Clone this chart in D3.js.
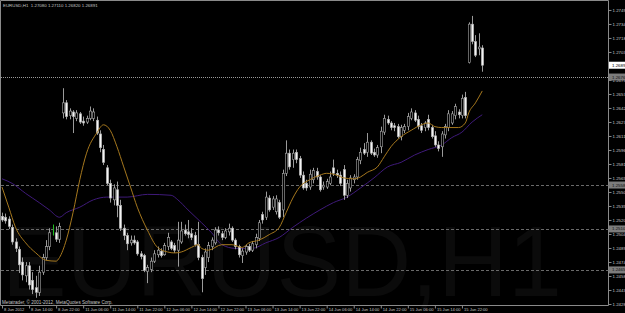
<!DOCTYPE html>
<meta charset="utf-8">
<script src="https://d3js.org/d3.v7.min.js"></script>
<style>
  body { margin: 0; background: #000; }
  svg text { font-family: "Liberation Sans", Arial, sans-serif; }
</style>
<body>
<div id="chart"></div>
<script>
// EURUSD H1, one candle per hour from 8 Jun 06:00 to 18 Jun 04:00
var open = [
  1.2524,1.2523,1.2521,1.2512,1.2496,1.2488,1.2474,1.2459,1.2470,1.2454,
  1.2446,1.2441,1.2463,1.2479,1.2491,1.2507,1.2506,1.2499,1.2637,1.2648,
  1.2634,1.2638,1.2631,1.2636,1.2628,1.2627,1.2631,1.2631,1.2629,1.2614,
  1.2597,1.2577,1.2560,1.2542,1.2553,1.2536,1.2511,1.2503,1.2495,1.2498,
  1.2496,1.2483,1.2481,1.2464,1.2466,1.2475,1.2482,1.2486,1.2482,1.2491,
  1.2496,1.2492,1.2487,1.2496,1.2509,1.2507,1.2505,1.2503,1.2493,1.2479,
  1.2468,1.2479,1.2491,1.2495,1.2509,1.2505,1.2501,1.2507,1.2511,1.2498,
  1.2491,1.2481,1.2485,1.2491,1.2487,1.2493,1.2500,1.2526,1.2523,1.2544,
  1.2534,1.2529,1.2539,1.2531,1.2571,1.2593,1.2586,1.2594,1.2587,1.2569,
  1.2560,1.2556,1.2564,1.2573,1.2567,1.2556,1.2556,1.2560,1.2577,1.2571,
  1.2569,1.2575,1.2547,1.2555,1.2564,1.2567,1.2585,1.2597,1.2594,1.2605,
  1.2594,1.2591,1.2600,1.2616,1.2630,1.2626,1.2623,1.2622,1.2611,1.2618,
  1.2622,1.2631,1.2637,1.2630,1.2623,1.2621,1.2630,1.2621,1.2612,1.2602,
  1.2600,1.2613,1.2621,1.2626,1.2634,1.2638,1.2634,1.2654,1.2692,1.2734,
  1.2715,1.2707,1.2708
];
var high = [
  1.2528,1.2527,1.2524,1.2515,1.2500,1.2491,1.2479,1.2474,1.2474,1.2463,
  1.2459,1.2470,1.2483,1.2498,1.2511,1.2515,1.2513,1.2517,1.2664,1.2651,
  1.2642,1.2640,1.2640,1.2638,1.2633,1.2634,1.2644,1.2642,1.2633,1.2618,
  1.2602,1.2580,1.2564,1.2559,1.2562,1.2542,1.2515,1.2506,1.2503,1.2503,
  1.2498,1.2486,1.2483,1.2471,1.2479,1.2487,1.2491,1.2489,1.2495,1.2506,
  1.2498,1.2495,1.2518,1.2518,1.2515,1.2520,1.2511,1.2507,1.2518,1.2482,
  1.2489,1.2496,1.2501,1.2512,1.2513,1.2508,1.2511,1.2516,1.2513,1.2500,
  1.2493,1.2489,1.2493,1.2494,1.2497,1.2505,1.2520,1.2529,1.2551,1.2547,
  1.2546,1.2547,1.2542,1.2575,1.2607,1.2597,1.2597,1.2597,1.2590,1.2573,
  1.2564,1.2575,1.2577,1.2577,1.2569,1.2562,1.2565,1.2573,1.2586,1.2575,
  1.2573,1.2580,1.2564,1.2569,1.2570,1.2589,1.2599,1.2604,1.2615,1.2607,
  1.2598,1.2602,1.2622,1.2635,1.2634,1.2628,1.2626,1.2625,1.2624,1.2625,
  1.2637,1.2642,1.2640,1.2634,1.2626,1.2628,1.2635,1.2624,1.2617,1.2606,
  1.2617,1.2625,1.2640,1.2639,1.2647,1.2641,1.2657,1.2660,1.2736,1.2743,
  1.2722,1.2724,1.2711
];
var low = [
  1.2518,1.2516,1.2510,1.2493,1.2485,1.2462,1.2454,1.2452,1.2444,1.2439,
  1.2435,1.2437,1.2460,1.2476,1.2487,1.2503,1.2496,1.2495,1.2631,1.2630,
  1.2630,1.2615,1.2628,1.2625,1.2623,1.2625,1.2629,1.2628,1.2613,1.2594,
  1.2580,1.2558,1.2539,1.2536,1.2523,1.2508,1.2498,1.2487,1.2492,1.2493,
  1.2481,1.2477,1.2463,1.2451,1.2463,1.2473,1.2479,1.2479,1.2481,1.2487,
  1.2487,1.2484,1.2469,1.2494,1.2503,1.2500,1.2498,1.2491,1.2476,1.2441,
  1.2460,1.2474,1.2487,1.2493,1.2503,1.2498,1.2499,1.2503,1.2496,1.2488,
  1.2479,1.2473,1.2482,1.2485,1.2485,1.2489,1.2497,1.2516,1.2520,1.2529,
  1.2531,1.2526,1.2521,1.2523,1.2568,1.2575,1.2577,1.2582,1.2566,1.2553,
  1.2552,1.2553,1.2560,1.2564,1.2551,1.2553,1.2554,1.2558,1.2568,1.2566,
  1.2557,1.2542,1.2544,1.2551,1.2560,1.2564,1.2581,1.2591,1.2589,1.2591,
  1.2589,1.2588,1.2593,1.2613,1.2624,1.2618,1.2617,1.2609,1.2607,1.2615,
  1.2618,1.2629,1.2627,1.2619,1.2615,1.2617,1.2618,1.2609,1.2600,1.2595,
  1.2589,1.2609,1.2617,1.2624,1.2630,1.2631,1.2631,1.2631,1.2691,1.2712,
  1.2698,1.2700,1.2682
];
var close = [
  1.2520,1.2519,1.2513,1.2496,1.2489,1.2471,1.2460,1.2470,1.2449,1.2444,
  1.2441,1.2463,1.2479,1.2491,1.2506,1.2507,1.2499,1.2513,1.2648,1.2633,
  1.2639,1.2633,1.2637,1.2627,1.2626,1.2631,1.2639,1.2638,1.2615,1.2599,
  1.2583,1.2560,1.2544,1.2555,1.2536,1.2511,1.2503,1.2494,1.2498,1.2495,
  1.2483,1.2480,1.2465,1.2468,1.2475,1.2483,1.2487,1.2481,1.2492,1.2501,
  1.2489,1.2487,1.2498,1.2508,1.2505,1.2504,1.2501,1.2493,1.2479,1.2456,
  1.2485,1.2492,1.2498,1.2509,1.2506,1.2501,1.2508,1.2511,1.2498,1.2491,
  1.2482,1.2486,1.2491,1.2487,1.2494,1.2501,1.2517,1.2520,1.2545,1.2531,
  1.2543,1.2543,1.2523,1.2571,1.2593,1.2578,1.2593,1.2586,1.2569,1.2555,
  1.2555,1.2570,1.2574,1.2567,1.2553,1.2558,1.2562,1.2567,1.2571,1.2569,
  1.2560,1.2547,1.2560,1.2566,1.2567,1.2586,1.2594,1.2593,1.2605,1.2593,
  1.2591,1.2599,1.2617,1.2631,1.2626,1.2621,1.2621,1.2611,1.2621,1.2622,
  1.2633,1.2638,1.2629,1.2622,1.2618,1.2626,1.2621,1.2611,1.2602,1.2598,
  1.2614,1.2622,1.2636,1.2636,1.2644,1.2635,1.2653,1.2634,1.2734,1.2715,
  1.2700,1.2709,1.26891
];

// fast (orange) and slow (purple) moving averages, read at some bars
var maFastBars = [0,2,4,7,10,13,16,17,19,21,23,25,28,30,32,34,36,38,40,43,46,49,51,53,56,58,59,61,65,68,71,73,76,79,82,84,86,88,91,94,96,99,101,104,106,108,111,113,115,118,121,124,126,128,130,132,135,137,138,140,142];
var maFast = [1.2556,1.2534,1.2512,1.2495,1.2484,1.2476,1.2475,1.2479,1.2498,1.2528,1.2564,1.2593,1.2615,1.2624,1.2618,1.2600,1.2578,1.2556,1.2534,1.2509,1.2490,1.2485,1.2484,1.2485,1.2490,1.2493,1.2489,1.2487,1.2493,1.2493,1.2490,1.2495,1.2498,1.2504,1.2512,1.2528,1.2544,1.2556,1.2564,1.2569,1.2571,1.2569,1.2566,1.2565,1.2567,1.2572,1.2578,1.2589,1.2600,1.2611,1.2618,1.2624,1.2626,1.2622,1.2621,1.2621,1.2621,1.2626,1.2637,1.2648,1.2661];
var maSlowBars = [0,3,7,11,14,17,19,23,27,31,37,43,50,52,55,59,62,65,69,74,78,82,86,90,94,98,102,106,110,114,118,122,126,130,133,136,139,142];
var maSlow = [1.2565,1.2560,1.2549,1.2539,1.2531,1.2523,1.2528,1.2534,1.2542,1.2545,1.2545,1.2548,1.2547,1.2542,1.2531,1.2517,1.2506,1.2493,1.2489,1.2489,1.2495,1.2501,1.2512,1.2522,1.2531,1.2539,1.2545,1.2555,1.2566,1.2578,1.2583,1.2591,1.2597,1.2602,1.2610,1.2616,1.2627,1.2635];

// bottom axis labels, one every 8 bars
var timeLabels = ["8 Jun 2012","8 Jun 14:00","8 Jun 22:00","11 Jun 06:00","11 Jun 14:00","11 Jun 22:00",
  "12 Jun 06:00","12 Jun 14:00","12 Jun 22:00","13 Jun 06:00","13 Jun 14:00","13 Jun 22:00",
  "14 Jun 06:00","14 Jun 14:00","14 Jun 22:00","15 Jun 06:00","15 Jun 14:00","15 Jun 22:00"];
var priceTicks = [1.27495,1.27342,1.27189,1.27036,1.26883,1.26730,1.26577,1.26424,1.26271,1.26118,1.25965,
  1.25812,1.25659,1.25506,1.25353,1.25200,1.25047,1.24894,1.24741,1.24588,1.24435,1.24282];
var levelLines = [1.26762, 1.25582, 1.25102, 1.24654];
var bidPrice = 1.26891;
var title = "EURUSD,H1  1.27080 1.27110 1.26820 1.26891";

var W = 625, H = 313;
var plotRight = 608.5, plotBottom = 305.5;

var svg = d3.select("#chart").append("svg")
    .attr("width", W).attr("height", H)
    .style("display", "block")
    .style("background", "#000");

var x = d3.scaleLinear().domain([0, open.length - 1]).range([2, 2 + (open.length - 1) * 3.382]);
var y = d3.scaleLinear().domain([1.24271, 1.27582]).range([305, 2]);

// big symbol watermark, barely visible
svg.append("text")
    .attr("x", 2).attr("y", 296)
    .attr("font-size", 100)
    .attr("textLength", 560).attr("lengthAdjust", "spacingAndGlyphs")
    .attr("fill", "#0b0b0b")
    .text("EURUSD,H1");

// frame
svg.append("path")
    .attr("d", "M0.5," + plotBottom + "V0.5H" + plotRight + "V" + plotBottom + "H0.5")
    .attr("fill", "none").attr("stroke", "#8a8a8a").attr("stroke-width", 1);

// horizontal level lines
svg.selectAll(".level").data(levelLines).enter().append("line")
    .attr("x1", 1).attr("x2", plotRight)
    .attr("y1", function(d) { return Math.round(y(d)) + 0.5; })
    .attr("y2", function(d) { return Math.round(y(d)) + 0.5; })
    .attr("stroke", function(d, i) { return i == 0 ? "#9a9a9a" : "#6a6a6a"; })
    .attr("stroke-dasharray", function(d, i) { return i == 0 ? "1,1" : "3,2"; })
    .attr("stroke-width", 1);

// moving averages
var maLine = d3.line()
    .x(function(d) { return x(d[0]); })
    .y(function(d) { return y(d[1]); })
    .curve(d3.curveMonotoneX);
svg.append("path")
    .datum(maSlowBars.map(function(b, i) { return [b, maSlow[i]]; }))
    .attr("fill", "none").attr("stroke", "#3f1a7a").attr("stroke-width", 1)
    .attr("d", maLine);

// candles
var bars = d3.range(open.length);
var candle = svg.append("g").selectAll("g").data(bars).enter().append("g");
candle.append("line")
    .attr("x1", function(i) { return Math.round(x(i)) + 0.5; })
    .attr("x2", function(i) { return Math.round(x(i)) + 0.5; })
    .attr("y1", function(i) { return y(high[i]); })
    .attr("y2", function(i) { return y(low[i]); })
    .attr("stroke", function(i) { return open[i] == close[i] ? "#1fbf1f" : "#9a9a9a"; })
    .attr("stroke-width", 1);
candle.filter(function(i) { return open[i] != close[i]; }).append("rect")
    .attr("x", function(i) { return Math.round(x(i)) - 0.7; })
    .attr("width", 2.4)
    .attr("y", function(i) { return y(Math.max(open[i], close[i])); })
    .attr("height", function(i) { return Math.max(1, Math.abs(y(open[i]) - y(close[i]))); })
    .attr("fill", function(i) { return close[i] > open[i] ? "#000" : "#f4f4f4"; })
    .attr("stroke", "#a8a8a8").attr("stroke-width", 0.6);

svg.append("path")
    .datum(maFastBars.map(function(b, i) { return [b, maFast[i]]; }))
    .attr("fill", "none").attr("stroke", "#a6781e").attr("stroke-width", 1)
    .attr("d", maLine);

// price axis on the right
var yAxis = svg.append("g")
    .attr("transform", "translate(" + plotRight + ",0)")
    .call(d3.axisRight(y).tickValues(priceTicks).tickSize(3).tickSizeOuter(0).tickPadding(1)
      .tickFormat(d3.format(".5f")));
yAxis.select(".domain").remove();
yAxis.selectAll("line").attr("stroke", "#8a8a8a");
yAxis.selectAll("text").attr("fill", "#c4c4c4").attr("font-size", 4.4).attr("font-family", "Liberation Sans");

// highlighted price labels
function priceTag(v, bg, fg) {
  var g = svg.append("g").attr("transform", "translate(" + (plotRight + 0.5) + "," + y(v) + ")");
  g.append("rect").attr("x", 0).attr("y", -3.5).attr("width", W - plotRight).attr("height", 7).attr("fill", bg);
  g.append("text").attr("x", 3).attr("dy", "0.35em").attr("font-size", 4.4)
    .attr("fill", fg).text(d3.format(".5f")(v));
}
levelLines.forEach(function(v) { priceTag(v, "#7c7c7c", "#101010"); });
priceTag(bidPrice, "#ffffff", "#000000");

// time axis
var xAxis = svg.append("g")
    .attr("transform", "translate(0," + plotBottom + ")")
    .call(d3.axisBottom(x).tickValues(timeLabels.map(function(d, i) { return i * 8; }))
      .tickSize(3).tickSizeOuter(0)
      .tickFormat(function(d, i) { return timeLabels[i]; }));
xAxis.select(".domain").remove();
xAxis.selectAll("line").attr("stroke", "#8a8a8a");
xAxis.selectAll("text").attr("fill", "#c4c4c4").attr("font-size", 4.1)
    .attr("font-family", "Liberation Sans")
    .attr("text-anchor", "start").attr("x", 1.5).attr("y", 2.3).attr("dy", "0.71em");

// title and copyright
svg.append("text").attr("x", 3).attr("y", 7).attr("font-size", 4.4)
    .attr("fill", "#c4c4c4").attr("xml:space", "preserve").text(title);
svg.append("text").attr("x", 2).attr("y", 303.5).attr("font-size", 4.6)
    .attr("fill", "#c4c4c4").text("Metatrader, \u00a9 2001-2012, MetaQuotes Software Corp.");
</script>
</body>
